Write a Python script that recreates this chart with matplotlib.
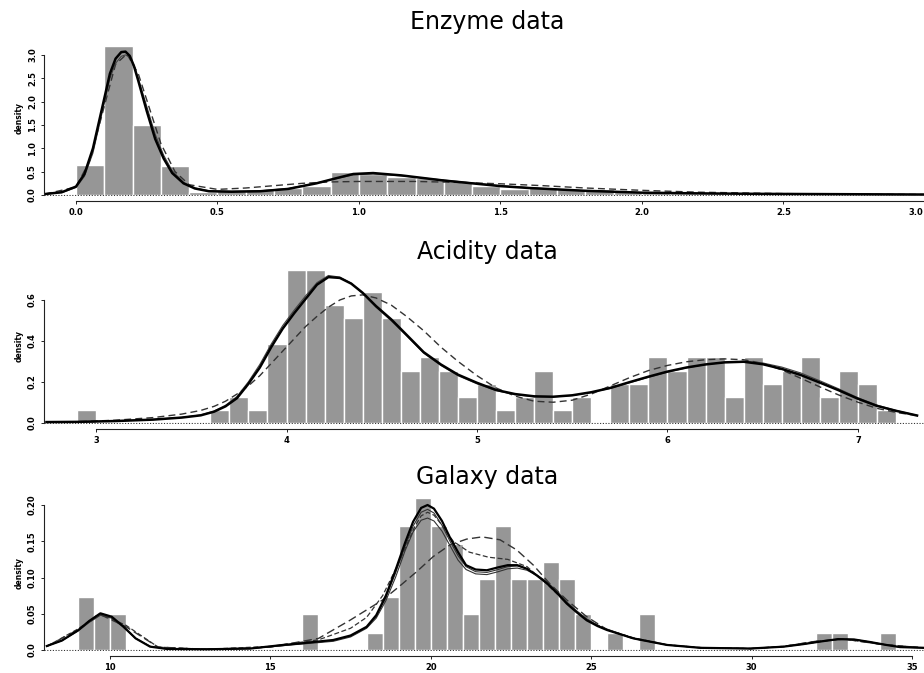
import numpy as np
import matplotlib
matplotlib.use("Agg")
import matplotlib.pyplot as plt
import matplotlib.transforms as mtransforms

# ---- Enzyme data ----
enz_edges = np.round(0.1 * np.arange(30), 1)
enz_hist = [0.65, 3.2, 1.5, 0.63, 0.06, 0.08, 0.12, 0.14, 0.2, 0.5,
            0.46, 0.39, 0.36, 0.29, 0.2, 0.12, 0.18, 0.13, 0.12, 0.08,
            0.06, 0.04, 0.04, 0.03, 0.02, 0.02, 0.02, 0.01, 0.01, 0.01]
enz_x = [-0.11, -0.05, 0.0, 0.03, 0.06, 0.09, 0.12, 0.14, 0.16, 0.175, 0.19, 0.205, 0.22,
         0.25, 0.28, 0.31, 0.34, 0.38, 0.42, 0.47, 0.55, 0.65, 0.75, 0.85, 0.92, 0.98, 1.05,
         1.15, 1.3, 1.4, 1.5, 1.6, 1.7, 1.8, 1.9, 2.0, 2.2, 2.4, 2.6, 2.8, 3.0]
enz_fit = [0.02, 0.06, 0.18, 0.45, 1.0, 1.8, 2.6, 2.92, 3.06, 3.07, 2.98, 2.76, 2.45,
           1.8, 1.2, 0.78, 0.47, 0.25, 0.14, 0.08, 0.07, 0.08, 0.13, 0.25, 0.36, 0.45, 0.47,
           0.42, 0.31, 0.25, 0.19, 0.15, 0.12, 0.09, 0.07, 0.05, 0.035, 0.025, 0.02, 0.015, 0.01]
enz_fit2 = [0.02, 0.05, 0.16, 0.4, 0.9, 1.7, 2.5, 2.82, 2.97, 3.0, 2.95, 2.78, 2.5,
            1.9, 1.3, 0.85, 0.52, 0.27, 0.15, 0.09, 0.08, 0.09, 0.14, 0.26, 0.35, 0.43, 0.45,
            0.41, 0.32, 0.26, 0.2, 0.16, 0.12, 0.09, 0.07, 0.05, 0.035, 0.025, 0.02, 0.015, 0.01]
enz_dx = [-0.11, 0.0, 0.05, 0.1, 0.14, 0.18, 0.22, 0.26, 0.3, 0.35, 0.4, 0.5, 0.6, 0.7,
          0.8, 0.9, 1.0, 1.1, 1.2, 1.35, 1.5, 1.65, 1.8, 2.0, 2.2, 2.5, 2.8, 3.0]
enz_dash = [0.02, 0.17, 0.75, 1.9, 2.8, 3.02, 2.6, 1.85, 1.1, 0.5, 0.22, 0.12, 0.15, 0.2,
            0.25, 0.28, 0.29, 0.29, 0.29, 0.27, 0.24, 0.2, 0.15, 0.1, 0.06, 0.03, 0.015, 0.01]

# ---- Acidity data ----
acid_edges = np.round(2.9 + 0.1 * np.arange(43), 1)
acid_hist = [0.062, 0, 0, 0, 0, 0, 0, 0.062, 0.127, 0.062, 0.383, 0.747, 0.747, 0.575,
             0.51, 0.64, 0.51, 0.254, 0.32, 0.254, 0.127, 0.19, 0.062, 0.127, 0.254, 0.062,
             0.127, 0, 0.19, 0.19, 0.32, 0.254, 0.32, 0.32, 0.127, 0.32, 0.19, 0.254, 0.32,
             0.127, 0.254, 0.19, 0.062]
acid_x = [2.74, 2.9, 3.1, 3.3, 3.45, 3.55, 3.62, 3.68, 3.74, 3.8, 3.86, 3.92, 3.98, 4.04,
          4.1, 4.16, 4.22, 4.28, 4.34, 4.4, 4.47, 4.55, 4.63, 4.72, 4.81, 4.9, 5.0, 5.1, 5.2,
          5.3, 5.4, 5.5, 5.6, 5.7, 5.8, 5.9, 6.0, 6.1, 6.2, 6.3, 6.4, 6.5, 6.6, 6.7, 6.8, 6.9,
          7.0, 7.1, 7.2, 7.31]
acid_fit = [0.003, 0.004, 0.008, 0.015, 0.025, 0.036, 0.054, 0.08, 0.12, 0.19, 0.27, 0.37,
            0.46, 0.535, 0.605, 0.675, 0.712, 0.708, 0.68, 0.635, 0.57, 0.505, 0.43, 0.345,
            0.285, 0.235, 0.195, 0.16, 0.14, 0.129, 0.127, 0.134, 0.149, 0.17, 0.198, 0.225,
            0.25, 0.27, 0.285, 0.295, 0.298, 0.286, 0.263, 0.233, 0.196, 0.158, 0.117, 0.082,
            0.058, 0.035]
acid_fit2 = [0.003, 0.004, 0.008, 0.016, 0.026, 0.038, 0.057, 0.085, 0.128, 0.2, 0.285,
             0.385, 0.475, 0.55, 0.62, 0.685, 0.72, 0.712, 0.682, 0.632, 0.565, 0.498, 0.425,
             0.34, 0.28, 0.23, 0.19, 0.157, 0.137, 0.127, 0.126, 0.133, 0.148, 0.168, 0.195,
             0.222, 0.247, 0.268, 0.284, 0.295, 0.3, 0.292, 0.272, 0.243, 0.205, 0.165, 0.122,
             0.086, 0.06, 0.036]
acid_dash = [0.003, 0.005, 0.012, 0.025, 0.042, 0.06, 0.08, 0.105, 0.14, 0.18, 0.23, 0.29,
             0.35, 0.41, 0.47, 0.52, 0.565, 0.6, 0.62, 0.625, 0.61, 0.575, 0.52, 0.45, 0.37,
             0.3, 0.23, 0.17, 0.13, 0.105, 0.1, 0.11, 0.14, 0.18, 0.22, 0.255, 0.28, 0.298,
             0.308, 0.312, 0.308, 0.29, 0.258, 0.217, 0.175, 0.135, 0.1, 0.07, 0.05, 0.035]

# ---- Galaxy data ----
gal_left = [9.0, 9.5, 10.0, 16.0, 18.0, 18.5, 19.0, 19.5, 20.0, 20.5, 21.0, 21.5, 22.0,
            22.5, 23.0, 23.5, 24.0, 24.5, 25.5, 26.5, 32.0, 32.5, 34.0]
gal_hist = [0.073, 0.049, 0.049, 0.049, 0.024, 0.073, 0.171, 0.21, 0.171, 0.146, 0.049,
            0.098, 0.171, 0.098, 0.098, 0.122, 0.098, 0.049, 0.024, 0.049, 0.024, 0.024, 0.024]
gal_x = [8.03, 8.5, 9.0, 9.35, 9.7, 10.05, 10.4, 10.8, 11.25, 11.77, 13.0, 14.37, 15.4,
         15.92, 16.45, 16.96, 17.5, 18.0, 18.3, 18.6, 18.9, 19.2, 19.45, 19.7, 19.9, 20.1,
         20.35, 20.6, 20.85, 21.1, 21.4, 21.75, 22.1, 22.4, 22.7, 23.0, 23.3, 23.62, 23.95,
         24.24, 24.55, 24.86, 25.2, 25.49, 26.32, 27.36, 28.4, 29.96, 31.0, 31.6, 32.2, 32.7,
         33.2, 33.7, 34.2, 34.63, 35.38]
gal_fit = [0.0055, 0.013, 0.027, 0.04, 0.0506, 0.046, 0.033, 0.016, 0.0046, 0.0015, 0.001,
           0.002, 0.007, 0.009, 0.0115, 0.0138, 0.02, 0.032, 0.048, 0.075, 0.11, 0.148, 0.177,
           0.196, 0.2, 0.195, 0.178, 0.155, 0.135, 0.117, 0.111, 0.11, 0.114, 0.117, 0.117,
           0.112, 0.103, 0.092, 0.078, 0.064, 0.052, 0.041, 0.033, 0.0276, 0.016, 0.007, 0.003,
           0.002, 0.0046, 0.008, 0.012, 0.015, 0.0145, 0.011, 0.007, 0.004, 0.003]
gal_fit2 = [0.0055, 0.013, 0.026, 0.038, 0.048, 0.044, 0.032, 0.016, 0.005, 0.0015, 0.001,
            0.002, 0.006, 0.008, 0.01, 0.012, 0.018, 0.03, 0.044, 0.068, 0.1, 0.137, 0.163,
            0.179, 0.182, 0.178, 0.164, 0.144, 0.124, 0.111, 0.105, 0.104, 0.108, 0.112, 0.113,
            0.11, 0.103, 0.093, 0.08, 0.066, 0.054, 0.043, 0.034, 0.029, 0.016, 0.007, 0.003,
            0.002, 0.0046, 0.008, 0.012, 0.015, 0.0145, 0.011, 0.007, 0.004, 0.003]
gal_fit3 = [0.0055, 0.013, 0.027, 0.039, 0.05, 0.045, 0.033, 0.016, 0.005, 0.0015, 0.001,
            0.002, 0.006, 0.009, 0.011, 0.013, 0.019, 0.031, 0.046, 0.072, 0.106, 0.143, 0.171,
            0.19, 0.194, 0.189, 0.172, 0.15, 0.13, 0.115, 0.108, 0.107, 0.111, 0.115, 0.116,
            0.112, 0.104, 0.094, 0.08, 0.066, 0.053, 0.042, 0.034, 0.028, 0.016, 0.007, 0.003,
            0.002, 0.0046, 0.008, 0.012, 0.015, 0.0145, 0.011, 0.007, 0.004, 0.003]
gal_dx = [8.03, 9.0, 9.69, 10.5, 11.5, 13.0, 15.0, 16.5, 17.48, 18.5, 19.0, 19.56, 20.08,
          20.6, 21.12, 21.6, 22.16, 22.68, 23.2, 23.7, 24.24, 24.86, 25.5, 26.3, 27.4, 28.5,
          30.0, 31.0, 32.0, 32.9, 34.0, 35.38]
gal_dash = [0.005, 0.028, 0.049, 0.032, 0.004, 0.001, 0.004, 0.016, 0.041, 0.069, 0.087,
            0.108, 0.129, 0.145, 0.153, 0.156, 0.152, 0.138, 0.117, 0.092, 0.069, 0.046,
            0.028, 0.016, 0.007, 0.003, 0.002, 0.005, 0.012, 0.015, 0.008, 0.003]
gal_dx2 = [8.03, 9.0, 9.69, 10.5, 11.5, 13.0, 15.0, 16.5, 17.5, 18.0, 18.5, 19.0, 19.5,
           19.7, 19.9, 20.1, 20.3, 20.7, 21.2, 21.8, 22.4, 23.0, 23.6, 24.2, 24.86, 25.5,
           26.3, 27.4, 28.5, 30.0, 31.0, 32.0, 32.9, 34.0, 35.38]
gal_dash2 = [0.005, 0.029, 0.05, 0.034, 0.004, 0.001, 0.005, 0.014, 0.03, 0.045, 0.075,
             0.12, 0.17, 0.185, 0.19, 0.186, 0.175, 0.15, 0.135, 0.128, 0.125, 0.115, 0.092,
             0.066, 0.042, 0.028, 0.017, 0.007, 0.003, 0.002, 0.005, 0.012, 0.015, 0.008, 0.003]

W, H = 924, 673
fig = plt.figure(figsize=(W / 100, H / 100), dpi=100)
bar_col = '#969696'


def px_axes(l, t, r, b):
    return fig.add_axes([l / W, 1 - b / H, (r - l) / W, (b - t) / H])


def style(ax, xticks, xlabels, yticks, ylabels):
    for s in ['top', 'right']:
        ax.spines[s].set_visible(False)
    ax.spines['bottom'].set_position(('outward', 3.5))
    ax.spines['bottom'].set_bounds(xticks[0], xticks[-1])
    ax.spines['left'].set_bounds(yticks[0], yticks[-1])
    for s in ['bottom', 'left']:
        ax.spines[s].set_linewidth(0.8)
        ax.spines[s].set_color('#222222')
    ax.set_xticks(xticks)
    ax.set_xticklabels(xlabels, fontsize=6, fontweight='bold')
    ax.set_yticks(yticks)
    ax.set_yticklabels(ylabels, fontsize=6, fontweight='bold', rotation=90, va='center')
    ax.tick_params(length=2.5, width=0.6, pad=2.5)
    ax.set_ylabel('density', fontsize=5.5, fontweight='bold', labelpad=3)
    ax.axhline(0, color='#333333', lw=0.8, ls=(0, (1, 1.5)), zorder=4)


# Enzyme
ax1 = px_axes(44, 40, 926, 196)
ax1.bar(enz_edges, enz_hist, width=0.1, align='edge', color=bar_col, edgecolor='white', lw=1)
ax1.plot(enz_dx, enz_dash, color='#333333', lw=1, ls=(0, (5, 3)))
ax1.plot(enz_x, enz_fit2, color='#444444', lw=0.8)
ax1.plot(enz_x, enz_fit, color='black', lw=1.8)
ax1.set_xlim(-0.113, 3.004)
ax1.set_ylim(-0.0214, 3.319)
style(ax1, [0, 0.5, 1.0, 1.5, 2.0, 2.5, 3.0], ['0.0', '0.5', '1.0', '1.5', '2.0', '2.5', '3.0'],
      [0, 0.5, 1.0, 1.5, 2.0, 2.5, 3.0], ['0.0', '0.5', '1.0', '1.5', '2.0', '2.5', '3.0'])
last = ax1.get_xticklabels()[-1]
last.set_ha('right')
last.set_transform(last.get_transform() + mtransforms.ScaledTranslation(-2 / 100, 0, fig.dpi_scale_trans))

# Acidity
ax2 = px_axes(44, 268, 926, 424)
ax2.bar(acid_edges, acid_hist, width=0.1, align='edge', color=bar_col, edgecolor='white', lw=1)
ax2.plot(acid_x, acid_dash, color='#333333', lw=1, ls=(0, (5, 3)))
ax2.plot(acid_x, acid_fit2, color='#444444', lw=0.8)
ax2.plot(acid_x, acid_fit, color='black', lw=1.8)
ax2.set_xlim(2.727, 7.357)
ax2.set_ylim(-0.0064, 0.7565)
style(ax2, [3, 4, 5, 6, 7], ['3', '4', '5', '6', '7'],
      [0, 0.2, 0.4, 0.6], ['0.0', '0.2', '0.4', '0.6'])

# Galaxy
ax3 = px_axes(44, 495, 926, 651)
ax3.bar(gal_left, gal_hist, width=0.5, align='edge', color=bar_col, edgecolor='white', lw=1)
ax3.plot(gal_dx, gal_dash, color='#333333', lw=1, ls=(0, (6, 3)))
ax3.plot(gal_dx2, gal_dash2, color='#333333', lw=0.9, ls=(0, (4, 2)))
ax3.plot(gal_x, gal_fit2, color='#333333', lw=0.8)
ax3.plot(gal_x, gal_fit3, color='#333333', lw=0.8)
ax3.plot(gal_x, gal_fit, color='black', lw=1.6)
ax3.set_xlim(7.942, 35.44)
ax3.set_ylim(-0.00138, 0.2138)
style(ax3, [10, 15, 20, 25, 30, 35], ['10', '15', '20', '25', '30', '35'],
      [0, 0.05, 0.10, 0.15, 0.20], ['0.0', '0.05', '0.10', '0.15', '0.20'])

for title, ypx in [('Enzyme data', 29), ('Acidity data', 259), ('Galaxy data', 484)]:
    fig.text(487 / W, 1 - ypx / H, title, ha='center', va='baseline', fontsize=17,
             family='DejaVu Sans')

fig.savefig('out.png', dpi=100)
